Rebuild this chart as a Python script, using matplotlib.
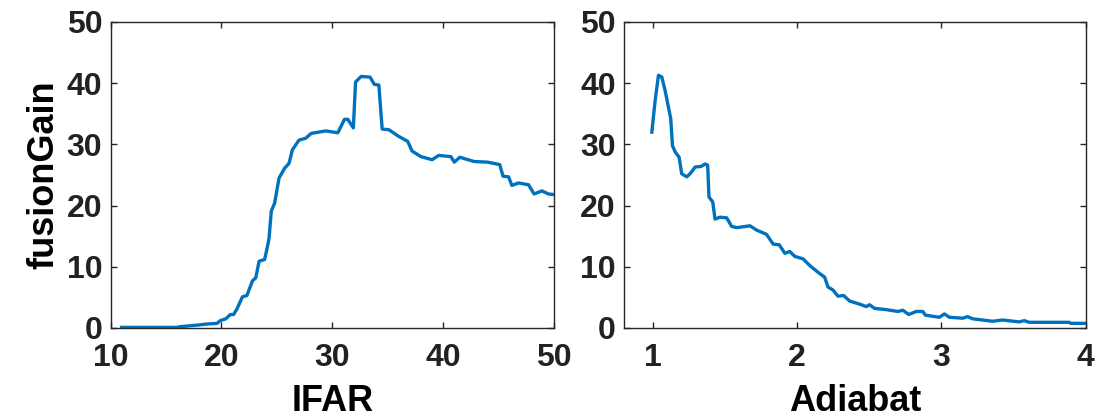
import numpy as np
import matplotlib
matplotlib.use("Agg")
import matplotlib.pyplot as plt

# IFAR scan
ifar = [11.0, 16.0, 16.2, 17.4, 18.0, 18.7, 19.6, 19.9, 20.4, 20.8, 21.1, 21.4, 21.9, 22.3,
        22.8, 23.1, 23.4, 23.9, 24.2, 24.3, 24.5, 24.8, 25.2, 25.7, 26.1, 26.4, 27.0, 27.6,
        28.1, 29.4, 30.5, 31.1, 31.4, 31.9, 32.1, 32.6, 33.4, 33.8, 34.2, 34.5, 35.1, 36.0,
        36.8, 37.2, 38.0, 39.0, 39.6, 40.7, 41.0, 41.5, 42.8, 44.0, 45.1, 45.4, 45.9, 46.2,
        46.8, 47.7, 48.2, 48.9, 49.5, 50.0]
gain_ifar = [0.1, 0.1, 0.2, 0.4, 0.5, 0.65, 0.75, 1.2, 1.5, 2.2, 2.2, 3.1, 5.1, 5.3,
             7.7, 8.2, 10.9, 11.2, 13.7, 14.7, 19.1, 20.4, 24.5, 26.1, 26.9, 29.1, 30.7, 31.0,
             31.8, 32.2, 31.9, 34.1, 34.1, 32.7, 40.2, 41.1, 41.0, 39.8, 39.7, 32.5, 32.4, 31.3,
             30.5, 28.9, 28.0, 27.5, 28.2, 28.0, 27.1, 27.9, 27.2, 27.1, 26.7, 24.8, 24.7, 23.3,
             23.7, 23.4, 21.9, 22.4, 21.9, 21.8]

# Adiabat scan
adiabat = [0.993, 1.016, 1.039, 1.062, 1.085, 1.108, 1.124, 1.136, 1.154, 1.182, 1.200, 1.235,
           1.258, 1.293, 1.334, 1.362, 1.380, 1.389, 1.415, 1.431, 1.465, 1.512, 1.546, 1.581,
           1.673, 1.719, 1.788, 1.834, 1.876, 1.915, 1.949, 1.984, 2.041, 2.088, 2.145, 2.191,
           2.214, 2.249, 2.283, 2.323, 2.364, 2.433, 2.479, 2.502, 2.537, 2.618, 2.698, 2.733,
           2.774, 2.825, 2.871, 2.889, 2.986, 3.021, 3.055, 3.147, 3.182, 3.217, 3.355, 3.424,
           3.539, 3.574, 3.608, 3.885, 3.896, 3.995]
gain_adiabat = [32.0, 37.2, 41.3, 41.0, 38.8, 36.1, 34.2, 29.8, 28.8, 27.9, 25.2, 24.7,
                25.2, 26.3, 26.4, 26.8, 26.6, 21.4, 20.6, 17.8, 18.1, 18.0, 16.6, 16.4,
                16.7, 16.0, 15.3, 13.7, 13.6, 12.2, 12.5, 11.7, 11.3, 10.2, 9.1, 8.3,
                6.7, 6.2, 5.2, 5.3, 4.4, 3.9, 3.5, 3.8, 3.2, 3.0, 2.7, 2.9,
                2.2, 2.7, 2.7, 2.1, 1.75, 2.3, 1.75, 1.6, 1.85, 1.5, 1.1, 1.3,
                1.0, 1.2, 0.93, 0.93, 0.76, 0.76]

plt.rcParams['font.family'] = ['Liberation Sans', 'DejaVu Sans']
plt.rcParams['font.weight'] = 'bold'

blue = '#0072BD'
edge = '#262626'

fig = plt.figure(figsize=(11.05, 4.19), dpi=100)
ax1 = fig.add_axes([0.100, 0.2172, 0.4014, 0.7303])
ax2 = fig.add_axes([0.5647, 0.2172, 0.4178, 0.7303])

ax1.plot(ifar, gain_ifar, color=blue, lw=2.4)
ax1.set_xlim(10, 50)
ax1.set_xticks([10, 20, 30, 40, 50])
ax1.set_xlabel('IFAR', fontsize=26, fontweight='bold', labelpad=8)
ax1.set_ylabel('fusionGain', fontsize=26, fontweight='bold', labelpad=4)

ax2.plot(adiabat, gain_adiabat, color=blue, lw=2.4)
ax2.set_xlim(0.8, 4)
ax2.set_xticks([1, 2, 3, 4])
ax2.set_xlabel('Adiabat', fontsize=26, fontweight='bold', labelpad=8)

for ax in (ax1, ax2):
    ax.set_ylim(0, 50)
    ax.set_yticks([0, 10, 20, 30, 40, 50])
    ax.tick_params(direction='in', top=True, right=True, length=4.5, width=1,
                   color=edge, labelcolor='#222222', labelsize=23)
    ax.tick_params(axis='x', pad=10.5)
    ax.tick_params(axis='y', pad=6)
    for s in ax.spines.values():
        s.set_color(edge)
        s.set_linewidth(1)

fig.savefig('out.png', dpi=100)
